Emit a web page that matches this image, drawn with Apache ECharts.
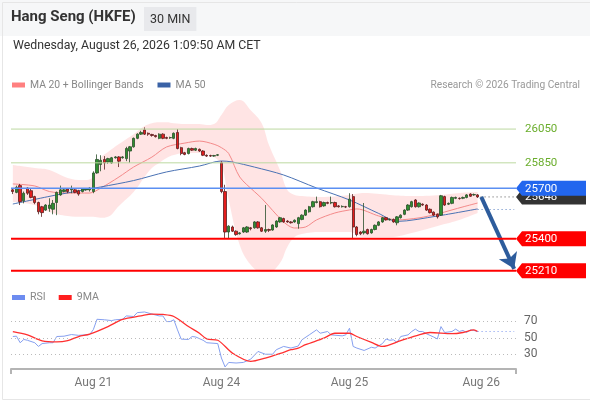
<!DOCTYPE html>
<html>
<head>
<meta charset="utf-8">
<title>Hang Seng (HKFE) 30 MIN</title>
<script src="https://cdn.jsdelivr.net/npm/echarts@6/dist/echarts.min.js"></script>
<style>
    html, body { margin: 0; padding: 0; background: #fff; }
    #mainChart { width: 590px; height: 400px; }
</style>
</head>
<body>
<div id="mainChart"></div>
<script>
'use strict';

// 30 min candles
var opens = [
    25690, 25675, 25715, 25625, 25700, 25685, 25650, 25615, 25590, 25570,
    25580, 25575, 25615, 25660, 25680, 25695, 25690, 25690, 25685, 25680,
    25690, 25690, 25680, 25790, 25840, 25870, 25855, 25850, 25880, 25885,
    25880, 25875, 25920, 25945, 25995, 26020, 26045, 26025, 26018, 26012,
    25995, 26020, 26000, 25998, 25995, 26030, 25940, 25910, 25905, 25935,
    25925, 25930, 25920, 25895, 25893, 25890, 25895, 25850, 25680, 25440,
    25470, 25445, 25430, 25440, 25440, 25465, 25465, 25500, 25465, 25445,
    25455, 25452, 25470, 25500, 25520, 25505, 25500, 25500, 25490, 25515,
    25540, 25560, 25590, 25615, 25620, 25595, 25615, 25612, 25615, 25595,
    25590, 25590, 25590, 25650, 25470, 25440, 25435, 25455, 25435, 25455,
    25480, 25500, 25525, 25512, 25515, 25495, 25525, 25545, 25570, 25590,
    25630, 25590, 25605, 25600, 25575, 25558, 25545, 25540, 25650, 25605,
    25610, 25640, 25640, 25640, 25645, 25665, 25660, 25660
];
var closes = [
    25680, 25705, 25620, 25670, 25670, 25645, 25615, 25560, 25555, 25600,
    25600, 25610, 25675, 25690, 25690, 25680, 25695, 25675, 25665, 25695,
    25695, 25700, 25790, 25870, 25865, 25850, 25875, 25880, 25885, 25860,
    25885, 25935, 25945, 25995, 26020, 26030, 26020, 26020, 26012, 26005,
    26020, 25995, 25995, 26000, 26025, 25935, 25905, 25900, 25935, 25925,
    25935, 25920, 25895, 25890, 25890, 25893, 25898, 25680, 25440, 25475,
    25445, 25425, 25435, 25465, 25470, 25460, 25500, 25465, 25445, 25455,
    25450, 25482, 25505, 25525, 25500, 25500, 25495, 25510, 25525, 25540,
    25570, 25590, 25620, 25620, 25590, 25615, 25610, 25615, 25590, 25590,
    25592, 25588, 25635, 25470, 25425, 25430, 25445, 25430, 25455, 25480,
    25500, 25525, 25512, 25515, 25500, 25530, 25540, 25570, 25600, 25620,
    25590, 25612, 25600, 25570, 25555, 25540, 25530, 25655, 25600, 25610,
    25645, 25645, 25638, 25645, 25660, 25652, 25662, 25648
];
var lows = [
    25665, 25670, 25600, 25610, 25660, 25640, 25605, 25545, 25530, 25565,
    25560, 25545, 25540, 25655, 25675, 25670, 25670, 25670, 25655, 25675,
    25685, 25680, 25670, 25785, 25800, 25810, 25845, 25845, 25875, 25825,
    25875, 25860, 25850, 25940, 25990, 26015, 26015, 26010, 26005, 26000,
    25990, 25990, 25990, 25992, 25990, 25930, 25895, 25895, 25900, 25920,
    25920, 25915, 25890, 25885, 25885, 25886, 25890, 25670, 25405, 25400,
    25440, 25418, 25425, 25435, 25435, 25450, 25460, 25460, 25440, 25435,
    25440, 25448, 25465, 25495, 25495, 25495, 25490, 25495, 25460, 25510,
    25535, 25555, 25585, 25610, 25585, 25590, 25605, 25605, 25585, 25585,
    25585, 25582, 25585, 25405, 25415, 25422, 25425, 25425, 25430, 25450,
    25475, 25495, 25508, 25508, 25495, 25480, 25520, 25540, 25565, 25585,
    25585, 25585, 25595, 25565, 25550, 25535, 25520, 25535, 25595, 25600,
    25605, 25635, 25632, 25635, 25640, 25648, 25655, 25642
];
var highs = [
    25700, 25715, 25725, 25680, 25705, 25695, 25655, 25620, 25595, 25605,
    25640, 25630, 25680, 25715, 25700, 25700, 25715, 25695, 25690, 25700,
    25700, 25705, 25800, 25900, 25895, 25890, 25880, 25885, 25890, 25890,
    25890, 25945, 25950, 26000, 26025, 26040, 26060, 26030, 26022, 26016,
    26025, 26025, 26005, 26005, 26030, 26050, 25945, 25915, 25940, 25940,
    25940, 25935, 25925, 25900, 25898, 25897, 25902, 25860, 25720, 25480,
    25478, 25450, 25440, 25470, 25475, 25470, 25505, 25505, 25470, 25600,
    25460, 25486, 25510, 25530, 25525, 25510, 25505, 25515, 25530, 25545,
    25575, 25595, 25625, 25650, 25625, 25620, 25620, 25650, 25620, 25600,
    25598, 25595, 25670, 25665, 25475, 25445, 25612, 25460, 25460, 25485,
    25505, 25530, 25530, 25520, 25520, 25535, 25545, 25575, 25605, 25625,
    25635, 25616, 25610, 25605, 25580, 25562, 25550, 25660, 25655, 25615,
    25650, 25650, 25645, 25650, 25665, 25670, 25668, 25665
];

// x axis: one slot per half hour, some empty slots on the right
var slotCount = 138;
var dayLabels = ['Aug 21', 'Aug 24', 'Aug 25', 'Aug 26'];
var dayIdx = [22, 57, 92, 128];

// bollinger bands (sampled on the picture)
var bbIdx = [0, 6, 10, 15, 19, 22, 24, 26, 29, 33, 36, 38, 40, 42, 44, 47, 51, 53, 55, 57,
    59, 62, 65, 68, 70, 73, 75, 77, 79, 84, 92, 96, 103, 109, 117, 122, 127];
var bbUpper = [25837, 25819, 25807, 25760, 25748, 25766, 25878, 25914, 25961, 26020, 26068, 26085, 26091, 26091, 26085, 26080, 26080, 26074, 26080, 26133,
    26192, 26222, 26162, 26085, 25955, 25807, 25689, 25660, 25654, 25648, 25660, 25671, 25660, 25654, 25660, 25671, 25677];
var bbLower = [25618, 25600, 25559, 25535, 25530, 25530, 25524, 25530, 25595, 25677, 25766, 25819, 25849, 25878, 25896, 25908, 25908, 25902, 25884, 25837,
    25630, 25364, 25246, 25204, 25204, 25257, 25352, 25411, 25429, 25441, 25441, 25411, 25411, 25435, 25482, 25512, 25553];

var ma20Points = [[0, 25725], [6, 25713], [10, 25680], [15, 25671], [21, 25671], [24, 25700], [29, 25766], [33, 25825],
    [38, 25884], [42, 25944], [47, 25967], [51, 25979], [55, 25960], [57, 25940], [59, 25905], [62, 25766], [66, 25680],
    [68, 25640], [74, 25500], [77, 25464], [80, 25470], [83, 25512], [88, 25553], [92, 25571], [94, 25577], [100, 25535],
    [105, 25512], [111, 25524], [116, 25547], [120, 25571], [123, 25589], [127, 25612]];
var ma50Points = [[0, 25606], [12, 25660], [24, 25707], [33, 25745], [42, 25796], [51, 25831], [57, 25861], [60, 25855],
    [66, 25825], [74, 25778], [83, 25701], [92, 25630], [100, 25550], [105, 25503], [116, 25535], [127, 25577]];

var rsiPoints = [[0, 51.6], [1, 52], [2, 44], [3, 48], [4, 47], [6, 44], [7, 39.5], [8, 43], [10, 44], [11, 44],
    [12, 51.6], [14, 52], [16, 54], [18, 53], [21, 54], [22, 60], [23, 72.6], [25, 72], [27, 71], [28, 72],
    [30, 72.6], [31, 76.7], [33, 76], [34, 80.7], [36, 81.5], [38, 79], [40, 76.7], [41, 76.7], [42, 69.8], [43, 69.8],
    [44, 72], [45, 59.7], [46, 48.4], [48, 48], [49, 51.6], [50, 51], [52, 47], [53, 44], [56, 43], [57, 25.4],
    [58, 14.5], [59, 20], [61, 19.3], [63, 20], [65, 24], [67, 33.4], [69, 30], [71, 30], [72, 35.5], [74, 39.5],
    [76, 37.5], [78, 40], [79, 47.6], [81, 53.6], [83, 59.7], [84, 55.6], [86, 57.7], [87, 53.6], [90, 52.4], [91, 53.6],
    [92, 61.7], [93, 39.5], [94, 37.5], [96, 34.6], [98, 38.5], [99, 37.5], [101, 43], [102, 48.6], [103, 47], [104, 47.6],
    [105, 44.4], [106, 51.6], [108, 53.6], [109, 57.7], [110, 60.6], [111, 57.7], [112, 57.7], [113, 55], [115, 51], [116, 48.6],
    [117, 63.7], [118, 56.5], [120, 57.7], [121, 60.6], [122, 57.7], [123, 59], [124, 56.5], [125, 59.7], [126, 59], [127, 57.7]];
var rsiMaPoints = [[0, 57.6], [4, 53.6], [8, 46.4], [12, 45], [15, 46.6], [18, 51.6], [21, 54.5], [26, 63.7], [30, 72.6],
    [35, 76.7], [38, 79], [41, 78.5], [44, 76], [48, 63.7], [51, 55.6], [53, 48.6], [56, 47], [60, 31.4], [65, 21.3],
    [69, 25.4], [74, 32.4], [76, 35.5], [78, 37.5], [80, 41.6], [85, 49.6], [88, 55.6], [92, 55.6], [94, 51.6], [98, 44.4],
    [101, 39.5], [106, 46.6], [111, 53.6], [114, 56.5], [120, 55], [123, 56.5], [126, 59.7], [127, 57.7]];
var rsiLevels = [30, 50, 70];

// key levels drawn on the right
var levelPrices = [26050, 25850, 25700, 25400, 25210];
var levelKinds = ['res', 'res', 'pivot', 'sup', 'sup'];
var arrowFrom = [128, 25648];
var arrowTo = [137, 25222];

var levelStyle = {
    res: { line: '#bcd9a0', width: 1, text: '#6aad2c', tag: null },
    pivot: { line: '#5b8ff2', width: 1.5, text: '#fff', tag: '#2266ee' },
    sup: { line: '#ff0000', width: 2, text: '#fff', tag: '#ff0000' }
};

window.onload = function() {
    var myChart = echarts.init(document.getElementById('mainChart'), null, { renderer: 'canvas' });

    var cats = [];
    for (var i = 0; i < slotCount; i++) cats.push(String(i));

    var candleData = [];
    for (var k = 0; k < opens.length; k++) {
        candleData.push([opens[k], closes[k], lows[k], highs[k]]);
    }
    var lastIdx = opens.length - 1;
    var lastPrice = closes[lastIdx];

    var bandLow = [], bandWidth = [];
    for (var b = 0; b < bbIdx.length; b++) {
        bandLow.push([bbIdx[b], bbLower[b]]);
        bandWidth.push([bbIdx[b], bbUpper[b] - bbLower[b]]);
    }

    var ma50Last = ma50Points[ma50Points.length - 1];
    var rsiLast = rsiPoints[rsiPoints.length - 1];

    function tagPoints(x0, y) {
        return [[x0, y], [x0 + 6, y - 7.5], [x0 + 70, y - 7.5], [x0 + 70, y + 7.5], [x0 + 6, y + 7.5]];
    }

    function renderLevel(params, api) {
        var cs = params.coordSys;
        var price = api.value(1);
        var y = api.coord([0, price])[1];
        var st = levelStyle[levelKinds[params.dataIndex]];
        var x0 = cs.x + cs.width;
        var children = [{
            type: 'line',
            shape: { x1: cs.x, y1: y, x2: x0, y2: y },
            style: { stroke: st.line, lineWidth: st.width }
        }];
        if (st.tag) {
            children.push({ type: 'polygon', shape: { points: tagPoints(x0, y) }, style: { fill: st.tag } });
        }
        children.push({
            type: 'text', x: x0 + 9, y: y + 0.5,
            style: { text: String(price), fill: st.text, font: '11.5px Roboto', align: 'left', verticalAlign: 'middle' }
        });
        return { type: 'group', children: children };
    }

    function renderLast(params, api) {
        var cs = params.coordSys;
        var p = api.coord([api.value(0), api.value(1)]);
        var x0 = cs.x + cs.width;
        return {
            type: 'group',
            children: [{
                type: 'line',
                shape: { x1: p[0] + 3, y1: p[1], x2: x0, y2: p[1] },
                style: { stroke: '#555', lineWidth: 1, lineDash: [1, 3] }
            }, {
                type: 'polygon', shape: { points: tagPoints(x0, p[1]) }, style: { fill: '#333' }
            }, {
                type: 'text', x: x0 + 9, y: p[1] + 0.5,
                style: { text: String(api.value(1)), fill: '#fff', font: '11.5px Roboto', align: 'left', verticalAlign: 'middle' }
            }]
        };
    }

    var option = {
        animation: false,
        backgroundColor: '#fff',
        textStyle: { fontFamily: 'Roboto' },
        graphic: [{
            type: 'rect', left: 0, top: 0, z: -10, silent: true,
            shape: { width: 590, height: 36 },
            style: { fill: '#f6f7f8' }
        }, {
            type: 'rect', left: 0, top: 0, z: -9, silent: true,
            shape: { x: 0.5, y: 0.5, width: 589, height: 397 },
            style: { fill: null, stroke: '#e6e6e6', lineWidth: 1 }
        }],
        title: [{
            text: 'Hang Seng (HKFE)', left: 11, top: 10, padding: 0,
            textStyle: { fontSize: 15, fontWeight: 'bold', color: '#333', fontFamily: 'Roboto' }
        }, {
            text: '30 MIN', left: 144, top: 7, padding: [6, 6, 5, 6], backgroundColor: '#e8e9ec',
            textStyle: { fontSize: 12.5, fontWeight: 'normal', color: '#333', fontFamily: 'Roboto' }
        }, {
            text: 'Wednesday, August 26, 2026 1:09:50 AM CET', left: 13, top: 40, padding: 0,
            textStyle: { fontSize: 12.3, fontWeight: 'normal', color: '#333', fontFamily: 'Roboto' }
        }, {
            text: 'Research \u00a9 2026 Trading Central', right: 10, top: 80, padding: 0,
            textStyle: { fontSize: 10.2, fontWeight: 'normal', color: '#999', fontFamily: 'Roboto' }
        }],
        legend: [{
            data: ['MA 20 + Bollinger Bands', 'MA 50'],
            left: 12, top: 80, padding: 0, itemGap: 14,
            icon: 'rect', itemWidth: 13, itemHeight: 5, selectedMode: false,
            textStyle: { color: '#888', fontSize: 10.4, fontFamily: 'Roboto' }
        }, {
            data: ['RSI', '9MA'],
            left: 12, top: 292, padding: 0, itemGap: 13,
            icon: 'rect', itemWidth: 13, itemHeight: 5, selectedMode: false,
            textStyle: { color: '#888', fontSize: 10.6, fontFamily: 'Roboto' }
        }],
        grid: [
            { left: 11, top: 97, width: 505, height: 184 },
            { left: 11, top: 305, width: 505, height: 64 }
        ],
        xAxis: [{
            type: 'category', gridIndex: 0, data: cats, boundaryGap: true, show: false
        }, {
            type: 'category', gridIndex: 1, data: cats, boundaryGap: true,
            axisLine: { lineStyle: { color: '#b4b4b4', width: 2 } },
            axisTick: {
                show: true, length: 5, lineStyle: { color: '#b4b4b4', width: 2 },
                interval: function(idx) { return idx === 0; }
            },
            axisLabel: {
                interval: function(idx) { return dayIdx.indexOf(idx) >= 0; },
                formatter: function(val, idx) {
                    var d = dayIdx.indexOf(idx);
                    return d >= 0 ? dayLabels[d] : '';
                },
                color: '#777', fontSize: 12, margin: 8, fontFamily: 'Roboto'
            },
            splitLine: { show: false }
        }],
        yAxis: [{
            type: 'value', gridIndex: 0, min: 25150, max: 26240, show: false, splitLine: { show: false }
        }, {
            type: 'value', gridIndex: 1, min: 12, max: 90, show: false, splitLine: { show: false }
        }],
        series: [{
            name: 'bbLow', type: 'line', xAxisIndex: 0, yAxisIndex: 0, stack: 'bb',
            data: bandLow, smooth: 0.4, symbol: 'none', silent: true, z: 1,
            lineStyle: { opacity: 0 }
        }, {
            name: 'bbBand', type: 'line', xAxisIndex: 0, yAxisIndex: 0, stack: 'bb',
            data: bandWidth, smooth: 0.4, symbol: 'none', silent: true, z: 1,
            lineStyle: { opacity: 0 },
            areaStyle: { color: 'rgba(255, 120, 120, 0.2)', opacity: 1 }
        }, {
            name: 'MA 20 + Bollinger Bands', type: 'line', xAxisIndex: 0, yAxisIndex: 0,
            data: ma20Points, smooth: 0.3, symbol: 'none', z: 2,
            itemStyle: { color: '#ff8080' },
            lineStyle: { color: '#f48a8a', width: 1 }
        }, {
            name: 'MA 50', type: 'line', xAxisIndex: 0, yAxisIndex: 0,
            data: ma50Points, smooth: 0.3, symbol: 'none', z: 2,
            itemStyle: { color: '#3a62a6' },
            lineStyle: { color: '#4a72b4', width: 1 },
            markLine: {
                silent: true, symbol: ['none', 'none'], label: { show: false },
                lineStyle: { color: '#5a80c0', type: [1, 3], width: 1.2 },
                data: [[{ coord: [lastIdx, ma50Last[1]] }, { coord: [slotCount - 1, ma50Last[1]] }]]
            }
        }, {
            name: 'price', type: 'candlestick', xAxisIndex: 0, yAxisIndex: 0,
            data: candleData, barWidth: 2.8, z: 3,
            itemStyle: {
                color: '#2f8f2f', color0: '#e41d1d',
                borderColor: '#2b4f2b', borderColor0: '#5a2020', borderWidth: 0.8
            },
            markLine: {
                silent: true, symbol: ['none', 'arrow'], symbolSize: 15,
                label: { show: false },
                lineStyle: { color: '#2d5c9c', width: 4, type: 'solid' },
                data: [[{ coord: arrowFrom }, { coord: arrowTo }]]
            }
        }, {
            name: 'last', type: 'custom', xAxisIndex: 0, yAxisIndex: 0, clip: false, z: 4, silent: true,
            renderItem: renderLast,
            data: [[lastIdx, lastPrice]]
        }, {
            name: 'levels', type: 'custom', xAxisIndex: 0, yAxisIndex: 0, clip: false, z: 5, silent: true,
            renderItem: renderLevel,
            data: levelPrices.map(function(p) { return [0, p]; })
        }, {
            name: 'RSI', type: 'line', xAxisIndex: 1, yAxisIndex: 1,
            data: rsiPoints, symbol: 'none', z: 3,
            itemStyle: { color: '#6d8cf0' },
            lineStyle: { color: '#86a0f0', width: 1 },
            markLine: {
                silent: true, symbol: ['none', 'none'], label: { show: false },
                lineStyle: { color: '#7b96ee', type: [1, 3], width: 1.2 },
                data: [[{ coord: [lastIdx, rsiLast[1]] }, { coord: [slotCount - 1, rsiLast[1]] }]]
            }
        }, {
            name: '9MA', type: 'line', xAxisIndex: 1, yAxisIndex: 1,
            data: rsiMaPoints, smooth: 0.3, symbol: 'none', z: 4,
            itemStyle: { color: '#ff1f1f' },
            lineStyle: { color: '#ff3030', width: 1.3 },
            markLine: {
                silent: true, symbol: ['none', 'none'],
                lineStyle: { color: '#bbbbbb', type: [1, 3], width: 1 },
                label: { show: true, position: 'end', distance: 8, formatter: '{c}', color: '#666', fontSize: 12, fontFamily: 'Roboto' },
                data: rsiLevels.map(function(v) { return { yAxis: v }; })
            }
        }]
    };

    myChart.setOption(option);
};
</script>
</body>
</html>
